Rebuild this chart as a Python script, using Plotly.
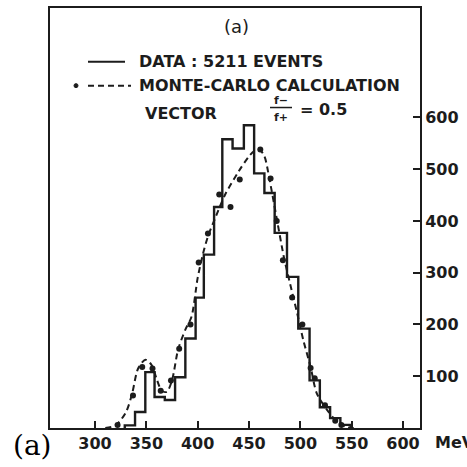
import plotly.graph_objects as go

# Histogram (DATA: 5211 events) - bin edges (MeV) and counts
bin_edges = [329, 339, 349, 358, 368, 378, 388, 398, 406, 416, 424, 434, 445, 455,
             465, 475, 487, 498, 509, 519, 529, 539, 549]
counts = [5, 31, 108, 60, 54, 98, 173, 252, 335, 427, 558, 540, 585, 492,
          454, 377, 292, 192, 92, 40, 19, 6]

# Monte-Carlo calculation (dashed curve)
mc_x = [310, 320, 330, 336, 342, 349, 355, 360, 365, 370, 375, 381, 388, 394,
        400, 405, 410, 418, 427, 440, 450, 455, 460, 465, 470, 477, 484, 490,
        497, 503, 510, 516, 526, 536, 545, 552]
mc_y = [0, 5, 30, 65, 115, 132, 122, 95, 72, 70, 92, 152, 190, 215,
        290, 335, 370, 410, 452, 496, 525, 535, 538, 525, 480, 405, 330, 279,
        221, 169, 118, 67, 35, 12, 2, 0]

# Monte-Carlo points
dot_x = [322, 337, 346, 356, 364, 374, 382, 393, 401, 410, 421, 432, 441, 461,
         471, 477, 483, 492, 502, 510, 514, 524, 534, 540]
dot_y = [6, 63, 118, 115, 72, 92, 153, 200, 320, 376, 451, 427, 480, 538,
         482, 400, 324, 252, 200, 116, 96, 44, 14, 6]

x_ticks = [300, 350, 400, 450, 500, 550, 600]
y_ticks = [100, 200, 300, 400, 500, 600]

INK = "#1c1c1c"
FONT = dict(family="DejaVu Sans", size=16, color=INK, weight="bold")

hx = [bin_edges[0]] + bin_edges[:-1] + [bin_edges[-1]]
hy = [0] + counts + [0]

fig = go.Figure()
fig.add_trace(go.Scatter(x=hx, y=hy, mode="lines", line=dict(color=INK, width=2.4, shape="hv"),
                         showlegend=False, hoverinfo="skip"))
fig.add_trace(go.Scatter(x=mc_x, y=mc_y, mode="lines",
                         line=dict(color=INK, width=2, dash="6px,4px", shape="spline", smoothing=0.8),
                         showlegend=False, hoverinfo="skip"))
fig.add_trace(go.Scatter(x=dot_x, y=dot_y, mode="markers",
                         marker=dict(color=INK, size=6),
                         showlegend=False, hoverinfo="skip"))

W, H = 467, 467
L, R, T, B = 50, 420, 6, 428


def px(x):
    return (x - L) / (R - L)


def py(y):
    return (B - y) / (B - T)


shapes = [
    dict(type="line", xref="paper", yref="paper", x0=px(88), x1=px(125), y0=py(60), y1=py(60),
         line=dict(color=INK, width=2)),
    dict(type="line", xref="paper", yref="paper", x0=px(88), x1=px(131), y0=py(84), y1=py(84),
         line=dict(color=INK, width=2, dash="6px,4px")),
    dict(type="circle", xref="paper", yref="paper", x0=px(74), x1=px(78), y0=py(86), y1=py(82),
         fillcolor=INK, line=dict(color=INK, width=1)),
    dict(type="line", xref="paper", yref="paper", x0=px(270), x1=px(292), y0=py(106), y1=py(106),
         line=dict(color=INK, width=1.5)),
]

ann = [
    dict(text="(a)", x=px(237), y=py(25), font=dict(family="DejaVu Sans", size=18, color=INK)),
    dict(text="DATA : 5211 EVENTS", x=px(137), y=py(60), xanchor="left", font=FONT),
    dict(text="MONTE-CARLO CALCULATION", x=px(137), y=py(84), xanchor="left", font=FONT),
    dict(text="VECTOR", x=px(143), y=py(112), xanchor="left", font=FONT),
    dict(text="f\u2212", x=px(281), y=py(99), font=dict(family="DejaVu Sans", size=11, color=INK, weight="bold")),
    dict(text="f+", x=px(281), y=py(116), font=dict(family="DejaVu Sans", size=11, color=INK, weight="bold")),
    dict(text="= 0.5", x=px(298), y=py(108), xanchor="left", font=FONT),
    dict(text="MeV", x=px(433), y=py(443), xanchor="left", font=FONT),
    dict(text="(a)", x=px(11), y=py(446), xanchor="left",
         font=dict(family="DejaVu Serif", size=28, color="#000000")),
]
for a in ann:
    a.setdefault("xref", "paper")
    a.setdefault("yref", "paper")
    a.setdefault("showarrow", False)
    a.setdefault("yanchor", "middle")
    a.setdefault("xanchor", "center")

x0 = 300 + (L - 95) * 300 / 308
x1 = 600 + (R - 403) * 300 / 308
y1 = (B - T) / 0.52

fig.update_layout(
    width=W, height=H,
    margin=dict(l=L, r=W - R, t=T, b=H - B, pad=0),
    paper_bgcolor="white", plot_bgcolor="white",
    shapes=shapes, annotations=ann,
    xaxis=dict(range=[x0, x1], tickvals=x_ticks, ticks="inside", ticklen=7, tickwidth=2,
               tickcolor=INK, showline=True, linecolor=INK, linewidth=2, mirror=True,
               showgrid=False, zeroline=False, tickfont=FONT),
    yaxis=dict(range=[0, y1], tickvals=y_ticks, side="right", ticks="inside", ticklen=7,
               tickwidth=2, tickcolor=INK, showline=True, linecolor=INK, linewidth=2,
               mirror=True, showgrid=False, zeroline=False, tickfont=FONT),
)

fig.write_html("out.html", config={"displayModeBar": False},
               post_script="document.body.style.margin='0px';")
